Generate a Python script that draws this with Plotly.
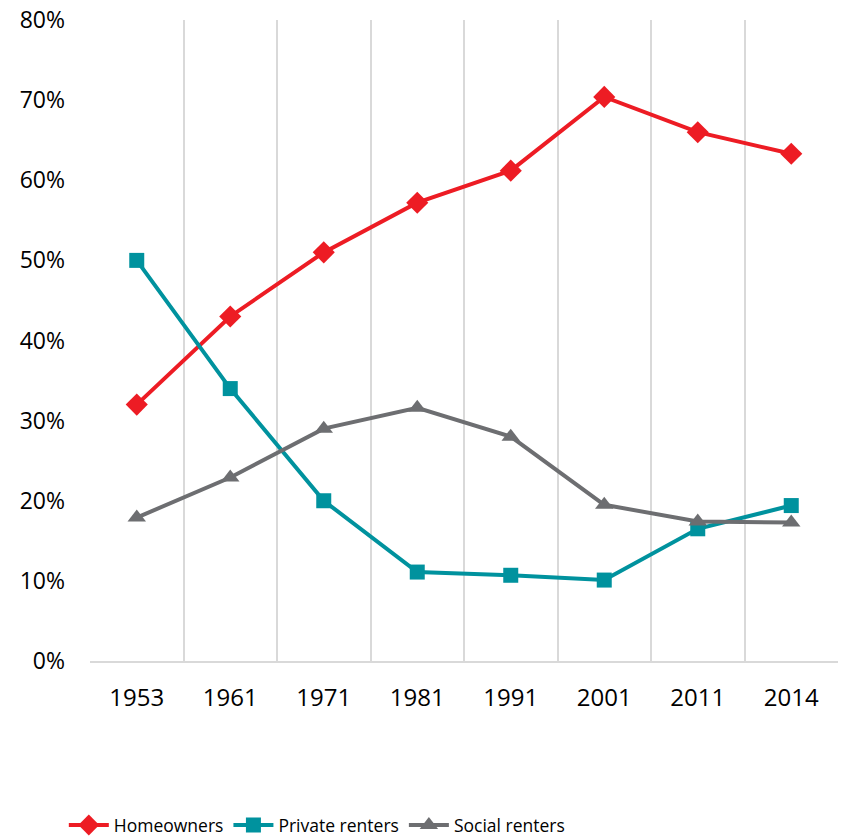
import plotly.graph_objects as go

years = ["1953", "1961", "1971", "1981", "1991", "2001", "2011", "2014"]
homeowners = [32.0, 43.0, 51.0, 57.2, 61.2, 70.4, 66.0, 63.3]
private_renters = [50.0, 34.0, 20.0, 11.1, 10.7, 10.1, 16.5, 19.4]
social_renters = [17.9, 22.9, 29.0, 31.6, 28.0, 19.5, 17.4, 17.3]
y_ticks = [0, 10, 20, 30, 40, 50, 60, 70, 80]
y_tick_labels = [f"{v}%" for v in y_ticks]

FONT = "Open Sans"
fig = go.Figure()
fig.add_trace(go.Scatter(x=years, y=homeowners, name="Homeowners", mode="lines+markers",
                         line=dict(color="#ED1C24", width=4),
                         marker=dict(symbol="diamond", size=17, color="#ED1C24")))
fig.add_trace(go.Scatter(x=years, y=private_renters, name="Private renters", mode="lines+markers",
                         line=dict(color="#00929E", width=4),
                         marker=dict(symbol="square", size=15, color="#00929E")))
fig.add_trace(go.Scatter(x=years, y=social_renters, name="Social renters", mode="lines+markers",
                         line=dict(color="#6D6E71", width=4),
                         marker=dict(symbol="triangle-up", size=16, color="#6D6E71")))

fig.update_layout(
    width=841, height=838,
    margin=dict(l=90, r=3, t=20, b=177, autoexpand=False),
    plot_bgcolor="white", paper_bgcolor="white",
    font=dict(family=FONT, size=24, color="#000000"),
    xaxis=dict(type="category", tickson="boundaries", showgrid=True, gridcolor="#D9D9D9", gridwidth=2,
               showline=True, linecolor="#D9D9D9", linewidth=2, ticks="", range=[-0.5, 7.5],
               ticklabelstandoff=14, tickfont=dict(size=24), automargin=False,
               ticklabeloverflow="allow"),
    yaxis=dict(range=[0, 80], tickvals=y_ticks, ticktext=y_tick_labels, showgrid=False,
               zeroline=False, showline=False, ticks="", ticklabelstandoff=24, tickfont=dict(size=23),
               automargin=False, ticklabeloverflow="allow"),
    legend=dict(orientation="h", x=-0.035, xanchor="left", y=-0.228, yanchor="top",
                font=dict(size=17.5), itemwidth=40, tracegroupgap=0),
    showlegend=True,
)
fig.write_html("out.html", config={"displayModeBar": False},
               post_script="document.body.style.margin='0';document.body.style.overflow='hidden';")
